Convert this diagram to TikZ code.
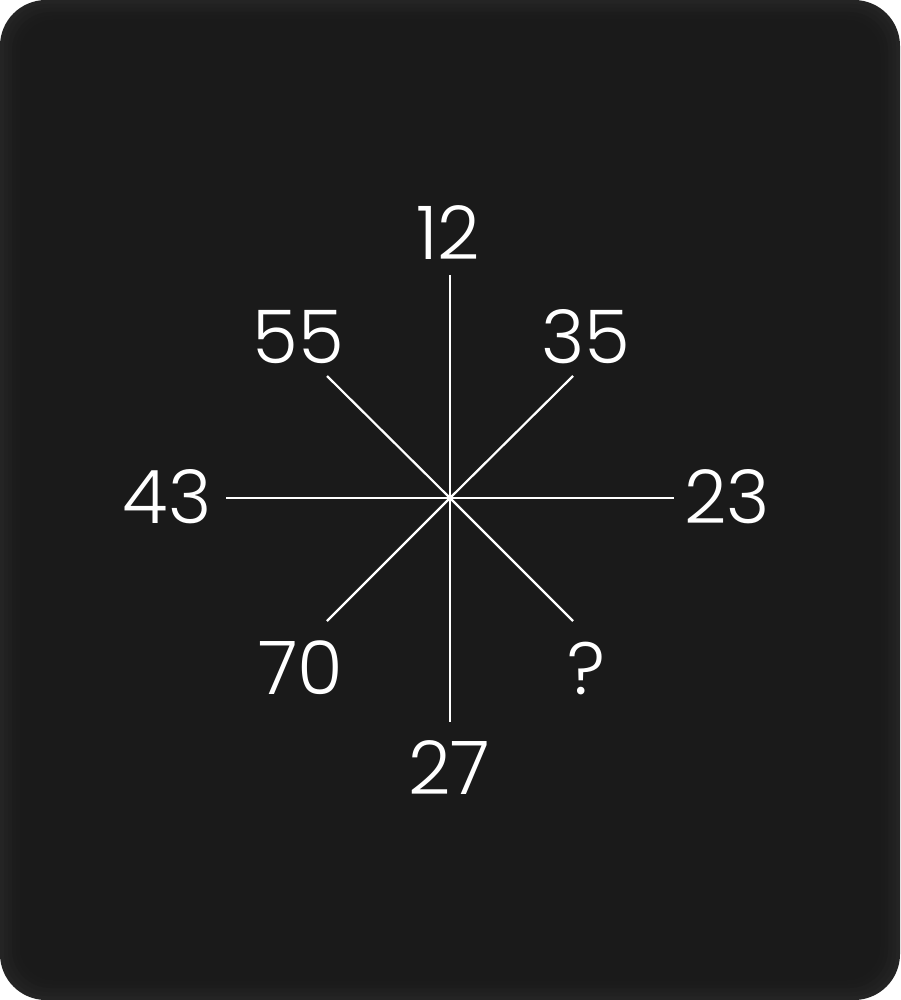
\documentclass[tikz,border=0pt]{standalone}
\usepackage{fontspec}
\IfFontExistsTF{Poppins Light}{\newfontfamily\numfont{Poppins Light}}{%
  \IfFontExistsTF{Poppins-Light}{\newfontfamily\numfont{Poppins-Light}}{%
    \IfFontExistsTF{Poppins ExtraLight}{\newfontfamily\numfont{Poppins ExtraLight}}{\newfontfamily\numfont{Poppins}}}}
\definecolor{bgin}{HTML}{1B1B1B}
\begin{document}
\begin{tikzpicture}[x=1pt,y=-1pt,
  ray/.style={draw=white,line width=2.2pt},
  num/.style={text=white,font=\numfont\fontsize{74}{74}\selectfont,inner sep=0pt,anchor=center}]
\useasboundingbox (0,0) rectangle (900,1000);
\fill[white] (0,0) rectangle (900,1000);
\foreach \i/\g in {0/14,4/13,8/12,12/11,16/10.6,20/10.3,24/10.1}{
  \pgfmathsetmacro{\r}{46-\i*0.6}
  \definecolor{tmpc}{gray}{0.\g}
  \fill[black!100,fill=white!\g!black,rounded corners=\r pt] (\i,\i) rectangle (900-\i,1000-\i);
}
\coordinate (c) at (450,498);
\coordinate (n) at (450,275);
\coordinate (s) at (450,722);
\coordinate (w) at (226,498);
\coordinate (e) at (674,498);
\coordinate (nw) at (327,376);
\coordinate (ne) at (573,376);
\coordinate (sw) at (327,621);
\coordinate (se) at (573,621);
\foreach \p in {n,s,w,e,nw,ne,sw,se} \draw[ray] (c) -- (\p);
\node[num] (t12) at (448,233) {12};
\node[num] (t55) at (298,337) {55};
\node[num] (t35) at (586,337) {35};
\node[num] (t43) at (167,497) {43};
\node[num] (t23) at (727,497) {23};
\node[num] (t70) at (301,668) {70};
\node[num] (tq) at (586,668) {?};
\node[num] (t27) at (449,768) {27};
\end{tikzpicture}
\end{document}
